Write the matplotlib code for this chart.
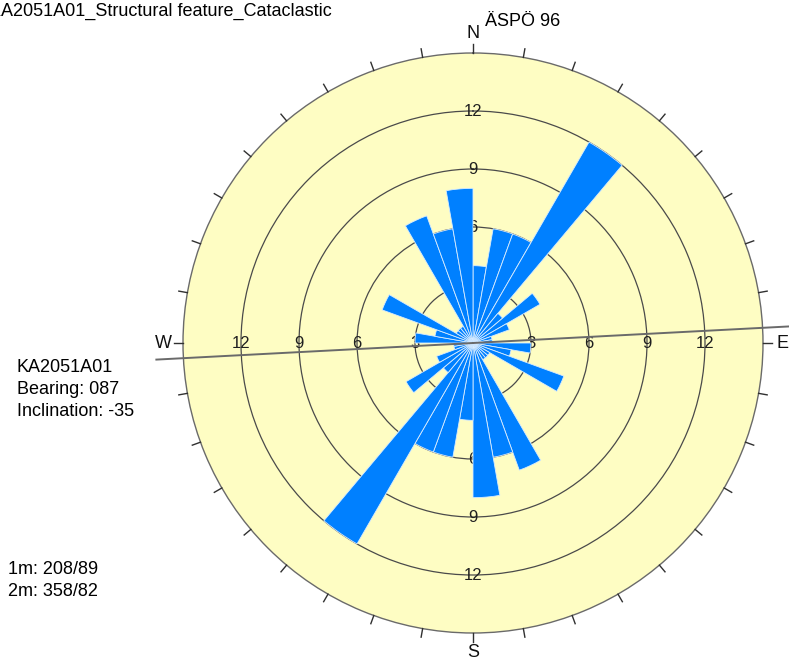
import numpy as np
import matplotlib
matplotlib.use('Agg')
import matplotlib.pyplot as plt

plt.rcParams['font.family'] = ['Liberation Sans', 'DejaVu Sans']

# rose data: counts per 10 degree bin, 0-180 (mirrored to 180-360)
bin_start = np.arange(0, 180, 10)
counts = [4, 6, 6, 12, 2, 4, 2, 1, 1, 3, 2, 5, 1, 1, 1, 7, 6, 8]
rings = [3, 6, 9, 12]
r_max = 15
bearing = 87
title = 'KA2051A01_Structural feature_Cataclastic'
site = 'ÄSPÖ 96'
info_lines = ['KA2051A01', 'Bearing: 087', 'Inclination: -35']
mean_lines = ['1m: 208/89', '2m: 358/82']

W, H = 789, 663
fig = plt.figure(figsize=(W / 100, H / 100), dpi=100)

# polar axes placed so that centre ~ (473, 343) px, radius ~ 290 px
cx, cy, rad = 473, 343, 290
ax = fig.add_axes([(cx - rad) / W, (H - cy - rad) / H, 2 * rad / W, 2 * rad / H],
                  projection='polar')
ax.set_theta_zero_location('N')
ax.set_theta_direction(-1)
ax.set_facecolor('#FEFDC3')
ax.set_ylim(0, r_max)
ax.set_xticks([])
ax.set_yticks(rings)
ax.set_yticklabels([])
ax.set_axisbelow(True)
ax.yaxis.grid(True, color='#4a4a4a', lw=0.9)
ax.spines['polar'].set_color('#6a6a6a')
ax.spines['polar'].set_linewidth(1.0)

# bars (bidirectional)
angles = np.concatenate([bin_start, bin_start + 180]) + 5
values = np.concatenate([counts, counts])
ax.bar(np.radians(angles), values, width=np.radians(10), color='#0080FF',
       edgecolor='#d8ecff', linewidth=0.6, zorder=2)

# ring labels in the four main directions
for a in [0, 90, 180, 270]:
    for r in rings:
        ax.text(np.radians(a), r, str(r), ha='center', va='center',
                fontsize=12, color='#202020', zorder=1.5)

# outer ticks every 10 degrees
for a in range(0, 360, 10):
    t = np.radians(a)
    ax.plot([t, t], [r_max, r_max + 0.45], color='#303030', lw=1.0,
            clip_on=False, zorder=3)

for a, lab in zip([0, 90, 180, 270], ['N', 'E', 'S', 'W']):
    ax.text(np.radians(a), 16.0, lab, ha='center', va='center', fontsize=13,
            color='#101010')

# borehole bearing line
tb = np.radians(bearing)
ax.plot([tb, tb], [0, 16.4], color='#6a6a6a', lw=1.4, clip_on=False, zorder=4)
ax.plot([tb + np.pi, tb + np.pi], [0, 16.4], color='#6a6a6a', lw=1.4,
        clip_on=False, zorder=4)

# texts
fig.text(-11 / W, 1 - 11.5 / H, title, fontsize=13, va='center', ha='left')
fig.text(485 / W, 1 - 22 / H, site, fontsize=13, va='center', ha='left')
for i, s in enumerate(info_lines):
    fig.text(17 / W, 1 - (367 + 22 * i) / H, s, fontsize=13, va='center')
for i, s in enumerate(mean_lines):
    fig.text(8 / W, 1 - (570 + 22 * i) / H, s, fontsize=13, va='center')

fig.savefig('out.png', dpi=100)
